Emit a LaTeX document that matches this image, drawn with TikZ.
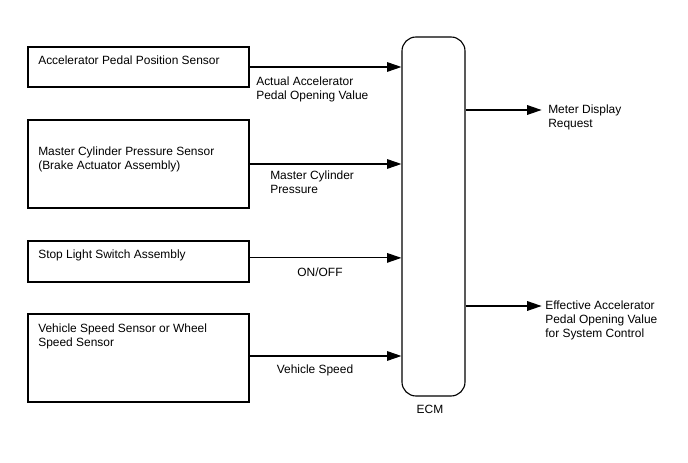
\documentclass[tikz,border=0pt]{standalone}
\usepackage{fontspec}
\setmainfont{Liberation Sans}
\usepackage{tikz}
\usetikzlibrary{arrows.meta,positioning}

\begin{document}
\begin{tikzpicture}[
  font=\fontsize{8.5pt}{10pt}\selectfont,
  sens/.style={draw,line width=0.8pt,minimum width=5.525cm,inner sep=0pt},
  ecmbox/.style={draw,line width=0.8pt,rounded corners=0.35cm,
              minimum width=1.575cm,minimum height=8.975cm,inner sep=0pt},
  txt/.style={anchor=west,align=left,inner sep=0pt},
  lbl/.style={align=left,inner sep=0pt},
  arr/.style={-{Triangle[length=3.6mm,width=2.4mm]},line width=0.8pt}
]
\useasboundingbox (0,0) rectangle (17.2,11.575);
% --- sensors ---
\node[sens,minimum height=1.0cm](aps) at(3.4625,9.9){};
\node[sens,minimum height=2.2cm](mcp) at(3.4625,7.475){};
\node[sens,minimum height=1.025cm](stp) at(3.4625,5.0375){};
\node[sens,minimum height=2.2cm](spd) at(3.4625,2.625){};
\node[txt](apst) at(0.95,10.075){Accelerator Pedal Position Sensor};
\node[txt](mcpt) at(0.95,7.5875){Master Cylinder Pressure Sensor\\(Brake Actuator Assembly)};
\node[txt](stpt) at(0.95,5.2){Stop Light Switch Assembly};
\node[txt](spdt) at(0.95,3.175){Vehicle Speed Sensor or Wheel\\Speed Sensor};
% --- ECM ---
\node[ecmbox](ecm) at(10.8375,6.1625){};
\node[lbl](ecml) at(10.75,1.35){ECM};
% sensor->ECM arrows
\foreach \s/\dy in {aps/0,mcp/0,stp/0.09,spd/0.05}
  \draw[arr]([yshift=\dy cm]\s.east)--([yshift=\dy cm]\s.east -| ecm.west);
\node[lbl,anchor=west](l1) at(6.4,9.35){Actual Accelerator\\Pedal Opening Value};
\node[lbl,anchor=west](l2) at(6.75,7.025){Master Cylinder\\Pressure};
\node[lbl](l3) at(8.0,4.775){ON/OFF};
\node[lbl](l4) at(7.875,2.325){Vehicle Speed};
% --- outputs ---
\coordinate (o1) at(13.54,8.825);
\coordinate (o2) at(13.54,3.925);
\draw[arr](ecm.east |- o1)--(o1);
\draw[arr](ecm.east |- o2)--(o2);
\node[lbl,anchor=west](mdr) at(13.7,8.65){Meter Display\\Request};
\node[lbl,anchor=west](eap) at(13.625,3.575){Effective Accelerator\\Pedal Opening Value\\for System Control};
\end{tikzpicture}
\end{document}
